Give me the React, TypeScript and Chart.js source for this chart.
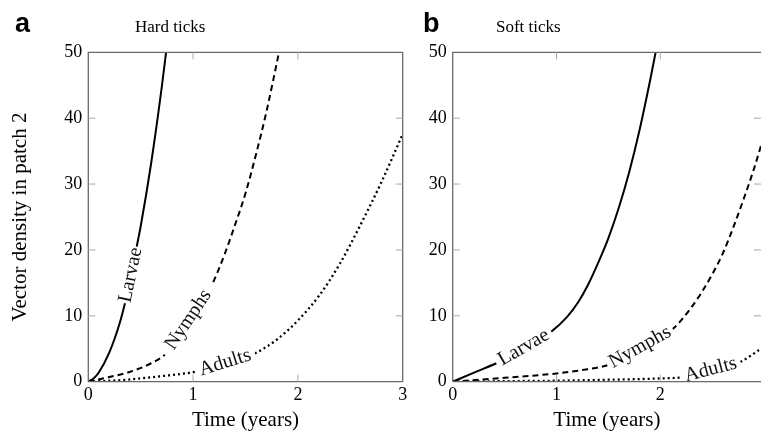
import React, { useEffect, useRef } from "react";
import { Chart, registerables } from "chart.js";

Chart.register(...registerables);

const SERIF = "'Liberation Serif', 'Times New Roman', serif";
const SANS = "'Liberation Sans', Arial, sans-serif";

// ---------- Panel a: Hard ticks ----------
const hardLarvaeX = [0, 0.05, 0.1, 0.2, 0.3, 0.35, 0.4, 0.462, 0.5, 0.6, 0.7, 0.742];
const hardLarvaeY = [0, 0.5, 1.4, 4.4, 8.9, 11.9, 15.3, 20.5, 23.6, 33.2, 44.6, 50];

const hardNymphsX = [0, 0.2, 0.4, 0.6, 0.73, 0.95, 1.18, 1.3, 1.4, 1.5, 1.6, 1.7, 1.82];
const hardNymphsY = [0, 0.7, 1.5, 2.8, 4.1, 8.0, 14.7, 19.3, 23.8, 28.6, 34.5, 41.0, 50];

const hardAdultsX = [0, 0.33, 0.65, 1.02, 1.3, 1.59, 1.8, 2.0, 2.2, 2.4, 2.6, 2.8, 3.0];
const hardAdultsY = [0, 0.26, 0.76, 1.5, 2.6, 4.3, 6.4, 9.3, 13.0, 17.9, 23.9, 30.4, 37.6];

// ---------- Panel b: Soft ticks ----------
const softLarvaeX = [0, 0.2, 0.42, 0.7, 0.95, 1.1, 1.21, 1.3, 1.4, 1.5, 1.6, 1.7, 1.8, 1.9, 1.96];
const softLarvaeY = [0, 1.35, 2.8, 5.0, 7.6, 9.8, 12.1, 14.6, 18.0, 21.8, 26.4, 31.8, 38.2, 45.6, 50.4];

const softNymphsX = [0, 0.5, 1.0, 1.3, 1.49, 1.8, 2.12, 2.2, 2.3, 2.4, 2.5, 2.6, 2.7, 2.8, 2.9, 2.97];
const softNymphsY = [0, 0.6, 1.25, 1.9, 2.5, 4.5, 8.0, 9.3, 11.3, 13.6, 16.3, 19.4, 23.3, 27.6, 32.2, 35.8];

const softAdultsX = [0, 0.5, 1.0, 1.5, 1.8, 2.0, 2.2, 2.5, 2.77, 2.97];
const softAdultsY = [0, 0.08, 0.15, 0.3, 0.4, 0.5, 0.65, 1.6, 3.0, 5.0];

// Inline curve labels: [from x, to x] along each curve
const seriesNames = ["Larvae", "Nymphs", "Adults"];
const hardLabelSpans = [[0.35, 0.462], [0.73, 1.18], [1.02, 1.59]];
const softLabelSpans = [[0.42, 0.95], [1.49, 2.12], [2.2, 2.77]];

const yTickValues = [0, 10, 20, 30, 40, 50];
const xTitle = "Time (years)";
const yTitle = "Vector density in patch 2";

const dashes = [[], [6, 4], [2, 3]];
const widths = [2, 2, 2.3];

function interpY(data: { x: number; y: number }[], x: number) {
  for (let i = 0; i < data.length - 1; i++) {
    if (x <= data[i + 1].x) {
      const t = (x - data[i].x) / (data[i + 1].x - data[i].x);
      return data[i].y + t * (data[i + 1].y - data[i].y);
    }
  }
  return data[data.length - 1].y;
}

function labelGeom(chart: any, i: number, span: number[]) {
  const xs = chart.scales.x;
  const ys = chart.scales.y;
  const data = chart.data.datasets[i].data;
  const x0 = xs.getPixelForValue(span[0]);
  const y0 = ys.getPixelForValue(interpY(data, span[0]));
  const x1 = xs.getPixelForValue(span[1]);
  const y1 = ys.getPixelForValue(interpY(data, span[1]));
  return {
    x0, y0, x1, y1,
    cx: (x0 + x1) / 2,
    cy: (y0 + y1) / 2,
    ang: Math.atan2(y1 - y0, x1 - x0),
  };
}

const decorPlugin = {
  id: "decor",
  beforeDatasetDraw(chart: any, args: any, opts: any) {
    const span = (opts.spans || [])[args.index];
    const { ctx } = chart;
    ctx.save();
    if (!span) return;
    const g = labelGeom(chart, args.index, span);
    const h = 12;
    const nx = -Math.sin(g.ang) * h;
    const ny = Math.cos(g.ang) * h;
    ctx.beginPath();
    ctx.rect(0, 0, chart.width, chart.height);
    ctx.moveTo(g.x0 + nx, g.y0 + ny);
    ctx.lineTo(g.x1 + nx, g.y1 + ny);
    ctx.lineTo(g.x1 - nx, g.y1 - ny);
    ctx.lineTo(g.x0 - nx, g.y0 - ny);
    ctx.closePath();
    ctx.clip("evenodd");
  },
  afterDatasetDraw(chart: any) {
    chart.ctx.restore();
  },
  afterDatasetsDraw(chart: any, _args: any, opts: any) {
    const { ctx, chartArea: a, scales } = chart;
    const xs = scales.x;
    const ys = scales.y;
    ctx.save();

    // curve labels
    (opts.spans || []).forEach((span: number[], i: number) => {
      const g = labelGeom(chart, i, span);
      ctx.save();
      ctx.translate(g.cx, g.cy);
      ctx.rotate(g.ang);
      ctx.fillStyle = "#111";
      ctx.font = `20px ${SERIF}`;
      ctx.textAlign = "center";
      ctx.textBaseline = "middle";
      ctx.fillText(seriesNames[i], 0, 0);
      ctx.restore();
    });

    // box
    ctx.strokeStyle = "#6a6a6a";
    ctx.lineWidth = 1.3;
    ctx.beginPath();
    ctx.moveTo(a.left, a.bottom);
    ctx.lineTo(a.left, a.top);
    ctx.lineTo(a.right, a.top);
    if (a.right < chart.width - 1) {
      ctx.moveTo(a.right, a.top);
      ctx.lineTo(a.right, a.bottom);
    }
    ctx.moveTo(a.left, a.bottom);
    ctx.lineTo(a.right, a.bottom);
    ctx.stroke();

    // inward tick marks
    ctx.strokeStyle = "#a8a8a8";
    ctx.lineWidth = 1;
    const tl = 7;
    ctx.beginPath();
    xs.ticks.forEach((t: any) => {
      const px = xs.getPixelForValue(t.value);
      if (px <= a.left + 1 || px >= a.right - 1) return;
      ctx.moveTo(px, a.bottom);
      ctx.lineTo(px, a.bottom - tl);
      ctx.moveTo(px, a.top);
      ctx.lineTo(px, a.top + tl);
    });
    ys.ticks.forEach((t: any) => {
      const py = ys.getPixelForValue(t.value);
      if (py <= a.top + 1 || py >= a.bottom - 1) return;
      ctx.moveTo(a.left, py);
      ctx.lineTo(a.left + tl, py);
      ctx.moveTo(a.right, py);
      ctx.lineTo(a.right - tl, py);
    });
    ctx.stroke();

    // panel letter and subtitle
    ctx.fillStyle = "#000";
    ctx.textBaseline = "alphabetic";
    ctx.textAlign = "left";
    ctx.font = `bold 27px ${SANS}`;
    ctx.fillText(opts.letter, opts.letterX, 32);
    ctx.font = `17px ${SERIF}`;
    ctx.fillText(opts.subtitle, opts.subtitleX, 32);
    ctx.restore();
  },
};

type PanelSpec = {
  xs: number[][];
  ys: number[][];
  spans: number[][];
  xMax: number;
  width: number;
  yAxisWidth: number;
  padRight: number;
  showYTitle: boolean;
  letter: string;
  letterX: number;
  subtitle: string;
  subtitleX: number;
};

function buildConfig(p: PanelSpec): any {
  return {
    type: "line",
    data: {
      datasets: p.xs.map((xArr, i) => ({
        label: seriesNames[i],
        data: xArr.map((x, j) => ({ x, y: p.ys[i][j] })),
        borderColor: "#000",
        borderWidth: widths[i],
        borderDash: dashes[i],
        borderCapStyle: "butt",
        pointRadius: 0,
        cubicInterpolationMode: "monotone",
        fill: false,
      })),
    },
    options: {
      animation: false,
      responsive: false,
      maintainAspectRatio: false,
      layout: { padding: { top: 52.3, left: 0, right: p.padRight, bottom: 0 } },
      plugins: {
        legend: { display: false },
        tooltip: { enabled: false },
        decor: {
          spans: p.spans,
          letter: p.letter,
          letterX: p.letterX,
          subtitle: p.subtitle,
          subtitleX: p.subtitleX,
        },
      },
      scales: {
        x: {
          type: "linear",
          min: 0,
          max: p.xMax,
          grid: { display: false, drawTicks: false },
          border: { display: false },
          ticks: {
            stepSize: 1,
            includeBounds: false,
            autoSkip: false,
            maxRotation: 0,
            color: "#000",
            padding: 3,
            font: { family: SERIF, size: 18 },
          },
          title: {
            display: true,
            text: xTitle,
            color: "#000",
            font: { family: SERIF, size: 21 },
            padding: { top: 0, bottom: 3 },
          },
          afterFit: (s: any) => {
            s.height = 54.3;
          },
        },
        y: {
          type: "linear",
          min: 0,
          max: 50,
          grid: { display: false, drawTicks: false },
          border: { display: false },
          afterBuildTicks: (s: any) => {
            s.ticks = yTickValues.map((v) => ({ value: v }));
          },
          ticks: {
            color: "#000",
            padding: 6,
            font: { family: SERIF, size: 18 },
          },
          title: {
            display: p.showYTitle,
            text: yTitle,
            color: "#000",
            font: { family: SERIF, size: 21 },
            padding: { top: 8, bottom: 0 },
          },
          afterFit: (s: any) => {
            s.width = p.yAxisWidth;
          },
        },
      },
    },
    plugins: [decorPlugin],
  };
}

const panelA: PanelSpec = {
  xs: [hardLarvaeX, hardNymphsX, hardAdultsX],
  ys: [hardLarvaeY, hardNymphsY, hardAdultsY],
  spans: hardLabelSpans,
  xMax: 3,
  width: 420,
  yAxisWidth: 88.3,
  padRight: 17.3,
  showYTitle: true,
  letter: "a",
  letterX: 15,
  subtitle: "Hard ticks",
  subtitleX: 135,
};

const panelB: PanelSpec = {
  xs: [softLarvaeX, softNymphsX, softAdultsX],
  ys: [softLarvaeY, softNymphsY, softAdultsY],
  spans: softLabelSpans,
  xMax: 2.97,
  width: 361,
  yAxisWidth: 52.7,
  padRight: -1,
  showYTitle: false,
  letter: "b",
  letterX: 23,
  subtitle: "Soft ticks",
  subtitleX: 96,
};

function Panel({ spec, left }: { spec: PanelSpec; left: number }) {
  const ref = useRef<HTMLCanvasElement>(null);
  useEffect(() => {
    if (!ref.current) return;
    const chart = new Chart(ref.current, buildConfig(spec));
    return () => chart.destroy();
  }, [spec]);
  return (
    <canvas
      ref={ref}
      width={spec.width}
      height={436}
      style={{ position: "absolute", left, top: 0, width: spec.width, height: 436 }}
    />
  );
}

export default function App() {
  return (
    <div
      style={{
        position: "absolute",
        left: 0,
        top: 0,
        width: 761,
        height: 436,
        overflow: "hidden",
        background: "#fff",
      }}
    >
      <Panel spec={panelA} left={0} />
      <Panel spec={panelB} left={400} />
    </div>
  );
}
